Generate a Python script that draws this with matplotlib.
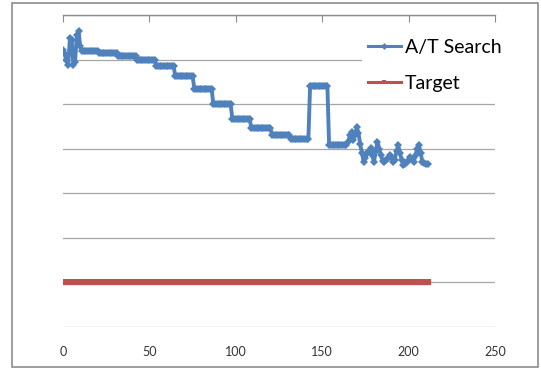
import matplotlib.pyplot as plt
from matplotlib.lines import Line2D
from matplotlib.patches import Rectangle

# A/T search value per iteration (plateaus written as runs)
search_vals = (
    [6.21, 6.12, 6.0, 5.88, 6.48, 6.45, 5.88, 5.95, 6.55, 6.63, 6.3]
    + [6.19] * 10
    + [6.15] * 11
    + [6.09] * 11
    + [6.0] * 11
    + [5.85] * 11
    + [5.63] * 11
    + [5.35] * 11
    + [5.0] * 11
    + [4.67] * 11
    + [4.46] * 12
    + [4.31] * 11
    + [4.22] * 11
    + [5.41] * 11
    + [4.08] * 11
    + [4.15, 4.3, 4.38, 4.2, 4.3, 4.48, 4.35, 4.1, 3.9, 3.71,
       3.8, 3.9, 3.95, 4.01, 3.85, 3.71, 3.95, 4.16, 4.0, 3.85,
       3.72, 3.71, 3.75, 3.8, 3.86, 3.82, 3.71, 3.75, 3.95, 4.08,
       3.9, 3.75, 3.63, 3.65, 3.7, 3.75, 3.82, 3.78, 3.71, 3.85,
       4.0, 4.08, 3.9, 3.7, 3.67, 3.66, 3.65]
)
steps = list(range(len(search_vals)))
target_level = 1.0
target_vals = [target_level] * len(steps)

xticks = [0, 50, 100, 150, 200, 250]
yticks = [0, 1, 2, 3, 4, 5, 6, 7]

blue = '#4F81BD'
red = '#C0504D'
grid_col = '#a6a6a6'

fig = plt.figure(figsize=(5.41, 3.70), dpi=100)
plt.rcParams['font.family'] = ['Lato', 'DejaVu Sans']

# chart area border
fig.patches.append(Rectangle((12 / 541, 3 / 370), 526 / 541, 364 / 370,
                             transform=fig.transFigure, fill=False,
                             edgecolor='#8c8c8c', linewidth=1.2))

ax = fig.add_axes([63 / 541, 43 / 370, 432 / 541, 312 / 370])

ax.plot(steps, target_vals, color=red, lw=3.8, marker='s', markersize=4,
        markeredgewidth=0, zorder=3)
ax.plot(steps, search_vals, color=blue, lw=2.8, marker='D', markersize=4,
        markeredgewidth=0, zorder=4)

ax.set_xlim(0, 250)
ax.set_ylim(0, 7)
ax.set_xticks(xticks)
ax.set_yticks(yticks)
ax.set_yticklabels([])
ax.tick_params(axis='y', left=False, length=0)
ax.tick_params(axis='x', bottom=False, top=True, labelbottom=True, labeltop=False,
               direction='in', length=5, color='#8c8c8c', pad=14,
               labelsize=9, labelcolor='#333333')
ax.grid(axis='y', color=grid_col, lw=0.9)
ax.set_axisbelow(True)
for s in ['left', 'right', 'bottom']:
    ax.spines[s].set_visible(False)
ax.spines['top'].set_color('#8c8c8c')
ax.spines['top'].set_linewidth(1)

handles = [
    Line2D([], [], color=blue, lw=2.2, marker='D', markersize=3.5, markeredgewidth=0),
    Line2D([], [], color=red, lw=2.2, marker='s', markersize=3.5, markeredgewidth=0),
]
leg = fig.legend(handles, ['A/T Search', 'Target'], loc='upper left',
                 bbox_to_anchor=(362 / 541, 1 - 33 / 370), frameon=True,
                 fontsize=14, handlelength=1.7, handletextpad=0.2,
                 labelspacing=1.0, borderpad=0.3, borderaxespad=0)
leg.get_frame().set_facecolor('white')
leg.get_frame().set_edgecolor('none')
leg.get_frame().set_alpha(1)
leg.set_zorder(10)

fig.savefig('out.png', dpi=100)
